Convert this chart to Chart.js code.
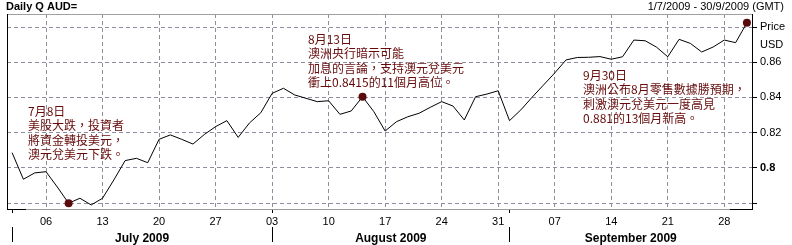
<!DOCTYPE html>
<html><head><meta charset="utf-8">
<script src="https://cdn.jsdelivr.net/npm/chart.js@4/dist/chart.umd.min.js"></script>
<style>html,body{margin:0;padding:0;background:#fff}#wrap{width:792px;height:245px;position:relative}canvas{display:block}</style>
</head><body><div id="wrap"><canvas id="c" width="792" height="245"></canvas></div>
<script>
// ---- data ----
const tradingDays = [
 '2009-07-01','2009-07-02','2009-07-03','2009-07-06','2009-07-07','2009-07-08','2009-07-09','2009-07-10',
 '2009-07-13','2009-07-14','2009-07-15','2009-07-16','2009-07-17','2009-07-20','2009-07-21','2009-07-22',
 '2009-07-23','2009-07-24','2009-07-27','2009-07-28','2009-07-29','2009-07-30','2009-07-31',
 '2009-08-03','2009-08-04','2009-08-05','2009-08-06','2009-08-07','2009-08-10','2009-08-11','2009-08-12',
 '2009-08-13','2009-08-14','2009-08-17','2009-08-18','2009-08-19','2009-08-20','2009-08-21','2009-08-24',
 '2009-08-25','2009-08-26','2009-08-27','2009-08-28','2009-08-31',
 '2009-09-01','2009-09-02','2009-09-03','2009-09-04','2009-09-07','2009-09-08','2009-09-09','2009-09-10',
 '2009-09-11','2009-09-14','2009-09-15','2009-09-16','2009-09-17','2009-09-18','2009-09-21','2009-09-22',
 '2009-09-23','2009-09-24','2009-09-25','2009-09-28','2009-09-29','2009-09-30'
];
const audUsd = [
 0.8086,0.7935,0.7971,0.7978,0.7891,0.7799,0.7827,0.7789,
 0.7827,0.7931,0.8041,0.8054,0.8029,0.8162,0.8187,0.8162,
 0.8135,0.8189,0.8234,0.8268,0.8173,0.8255,0.8313,
 0.8423,0.8452,0.8414,0.8395,0.8376,0.8381,0.8304,0.8323,
 0.8404,0.8319,0.8209,0.8262,0.8290,0.8310,0.8344,0.8376,
 0.8351,0.8272,0.8404,0.8419,0.8438,
 0.8268,0.8329,0.8401,0.8470,0.8539,0.8613,0.8627,0.8628,
 0.8632,0.8617,0.8631,0.8726,0.8722,0.8686,0.8631,0.8730,
 0.8707,0.8658,0.8686,0.8726,0.8711,0.8824
];
const weekTickDays = ['2009-07-06','2009-07-13','2009-07-20','2009-07-27','2009-08-03','2009-08-10','2009-08-17',
 '2009-08-24','2009-08-31','2009-09-07','2009-09-14','2009-09-21','2009-09-28'];
const weekTickLabels = ['06','13','20','27','03','10','17','24','31','07','14','21','28'];
const monthStartDays = ['2009-07-01','2009-08-03','2009-09-01'];
const monthLabels = ['July 2009','August 2009','September 2009'];
const yTickValues = [0.78,0.80,0.82,0.84,0.86,0.88];
const yUnitLabels = ['Price','USD'];
const noteDays = ['2009-07-08','2009-08-13','2009-09-30'];
const noteTexts = [
 ['7月8日','美股大跌，投資者','將資金轉投美元，','澳元兌美元下跌。'],
 ['8月13日','澳洲央行暗示可能','加息的言論，支持澳元兌美元','衝上0.8415的11個月高位。'],
 ['9月30日','澳洲公布8月零售數據勝預期，','刺激澳元兌美元一度高見','0.881的13個月新高。']
];
const headerLeft = 'Daily Q AUD=';
const headerRight = '1/7/2009 - 30/9/2009 (GMT)';

// ---- derived ----
const idxOf = d => tradingDays.indexOf(d);
const X_MIN = -0.45, X_MAX = 65.45;
const lineData = audUsd.map((v,i)=>({x:i,y:v}));
const noteData = noteDays.map(d=>({x:idxOf(d), y:audUsd[idxOf(d)]}));
const weekIdx = weekTickDays.map(idxOf);
const monthIdx = monthStartDays.map(idxOf);
const xTickSet = Array.from(new Set([...weekIdx, ...monthIdx])).sort((a,b)=>a-b);
const monthCenters = monthIdx.map((m,i)=> (m + (i+1<monthIdx.length ? monthIdx[i+1] : X_MAX))/2);
const x2Ticks = [];
monthIdx.forEach((m,i)=>{ x2Ticks.push({v:m, label:''}); x2Ticks.push({v:monthCenters[i], label:monthLabels[i]}); });
const yAllTicks = [...yTickValues, 0.87].sort((a,b)=>a-b);
const near = (a,b)=>Math.abs(a-b)<1e-6;

const FONT = '"Liberation Sans", Arial, sans-serif';
const GRID = '#8e8e9e';
const CLEAR = 'rgba(0,0,0,0)';
const NOTE_COLOR = '#660a0a';

const overlay = {
  id:'overlay',
  beforeDraw(chart){
    const {ctx} = chart;
    ctx.save();
    ctx.fillStyle='#fff'; ctx.fillRect(0,0,chart.width,chart.height);
    ctx.fillStyle='#000';
    ctx.textBaseline='middle';
    ctx.font='bold 11px '+FONT; ctx.textAlign='left';
    ctx.fillText(headerLeft, 6, 7);
    ctx.font='11px '+FONT; ctx.textAlign='right';
    ctx.fillText(headerRight, 784, 7);
    ctx.restore();
  },
  afterDraw(chart){
    const {ctx, chartArea:a} = chart;
    ctx.save();
    ctx.lineWidth=1;
    ctx.strokeStyle='#a0a0a0';
    ctx.beginPath(); ctx.moveTo(a.left, a.top+0.5); ctx.lineTo(a.right, a.top+0.5); ctx.stroke();
    ctx.strokeStyle='#000';
    ctx.beginPath(); ctx.moveTo(a.left+0.5, a.top); ctx.lineTo(a.left+0.5, a.bottom+1); ctx.stroke();
    ctx.beginPath();
    ctx.moveTo(a.left, a.bottom+0.5); ctx.lineTo(a.left+19, a.bottom+0.5);
    ctx.moveTo(a.right-22, a.bottom+0.5); ctx.lineTo(a.right, a.bottom+0.5);
    ctx.stroke();
    // notes
    ctx.fillStyle = NOTE_COLOR;
    ctx.font = '12px "Noto Sans CJK TC", sans-serif';
    ctx.textAlign='left'; ctx.textBaseline='middle';
    const pos = [[28,111],[308,39],[583,75]];
    noteTexts.forEach((lines,k)=>{
      lines.forEach((t,j)=> ctx.fillText(t, pos[k][0], pos[k][1] + j*14.6));
    });
    ctx.restore();
  }
};

new Chart(document.getElementById('c'), {
  type:'line',
  data:{ datasets:[
    { data: lineData, borderColor:'#000', borderWidth:1, pointRadius:0, tension:0, fill:false, order:2 },
    { data: noteData, showLine:false, pointRadius:4, pointBackgroundColor:'#5a0a0a', pointBorderColor:'#5a0a0a', pointBorderWidth:0, order:1, clip:false }
  ]},
  options:{
    responsive:false, animation:false, devicePixelRatio:1,
    layout:{ padding:{ top:14, left:7, right:0, bottom:0 } },
    plugins:{ legend:{display:false}, tooltip:{enabled:false}, title:{display:false} },
    scales:{
      x:{ type:'linear', position:'bottom', weight:0, min:X_MIN, max:X_MAX,
        afterBuildTicks: s => { s.ticks = xTickSet.map(v=>({value:v})); },
        afterFit: s => { s.height = 18; },
        ticks:{ autoSkip:false, maxRotation:0, padding:2, color:'#000', font:{size:11, family:FONT},
          callback: v => { const k = weekIdx.indexOf(v); return k>=0 ? weekTickLabels[k] : ''; } },
        grid:{ lineWidth:1, tickLength:4,
          color: c => (c.tick && weekIdx.includes(c.tick.value)) ? GRID : CLEAR,
          tickColor: c => (c.tick && monthIdx.includes(c.tick.value)) ? '#000' : CLEAR },
        border:{ color:'#9a9a9a', dash:[4,3] }
      },
      x2:{ type:'linear', position:'bottom', weight:1, min:X_MIN, max:X_MAX,
        afterBuildTicks: s => { s.ticks = x2Ticks.map(t=>({value:t.v})); },
        afterFit: s => { s.height = 18; },
        ticks:{ autoSkip:false, maxRotation:0, padding:-11, color:'#000', font:{size:12, weight:'bold', family:FONT},
          callback: v => { const t = x2Ticks.find(t=>near(t.v,v)); return t ? t.label : ''; } },
        grid:{ drawOnChartArea:false, tickLength:15, lineWidth:1, color:CLEAR,
          tickColor: c => (c.tick && monthIdx.includes(c.tick.value)) ? '#000' : CLEAR },
        border:{ display:false }
      },
      y:{ position:'right', min:0.7766, max:0.8874,
        afterBuildTicks: s => { s.ticks = yAllTicks.map(v=>({value:v})); },
        afterFit: s => { s.width = 40; },
        ticks:{ padding:3, color:'#000',
          font: c => ({ size:11, family:FONT, weight: (c.tick && near(c.tick.value,0.8)) ? 'bold' : 'normal' }),
          callback: v => {
            if (near(v,0.88)) return yUnitLabels[0];
            if (near(v,0.87)) return yUnitLabels[1];
            if (near(v,0.78)) return '';
            return String(Math.round(v*100)/100);
          } },
        grid:{ lineWidth:1, tickLength:5,
          color: c => (c.tick && near(c.tick.value,0.87)) ? CLEAR : GRID,
          tickColor: c => (c.tick && near(c.tick.value,0.87)) ? CLEAR : '#000' },
        border:{ color:'#000', dash:[4,3] }
      }
    }
  },
  plugins:[overlay]
});
</script></body></html>
